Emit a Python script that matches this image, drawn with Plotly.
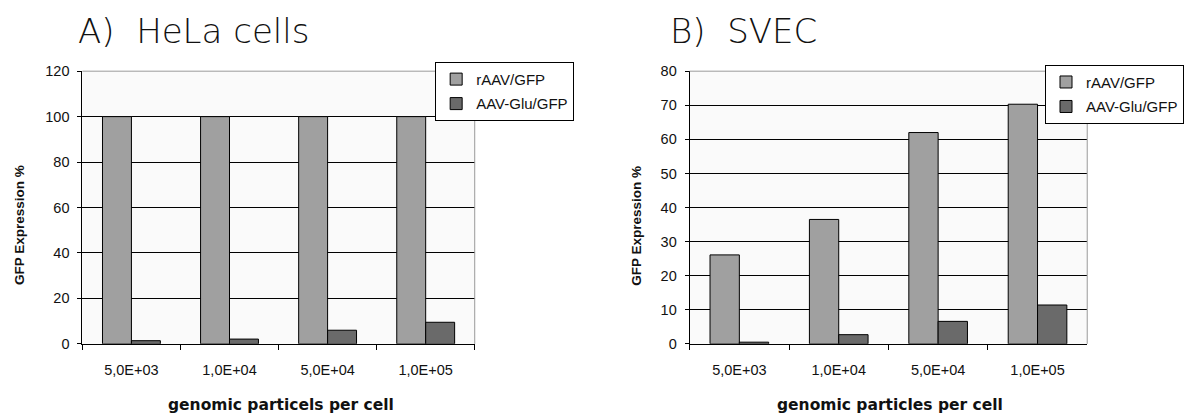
import plotly.graph_objects as go

categories = ["5,0E+03", "1,0E+04", "5,0E+04", "1,0E+05"]
series_names = ["rAAV/GFP", "AAV-Glu/GFP"]
hela_raav = [100, 100, 100, 100]
hela_glu = [1.4, 2.1, 6.0, 9.5]
svec_raav = [26.1, 36.5, 62.0, 70.3]
svec_glu = [0.5, 2.7, 6.6, 11.4]
hela_ticks = [0, 20, 40, 60, 80, 100, 120]
svec_ticks = [0, 10, 20, 30, 40, 50, 60, 70, 80]

C_LIGHT = "#a0a0a0"
C_DARK = "#6a6a6a"
W, H = 1184, 416

fig = go.Figure()

def add_bars(vals_a, vals_b, xa, ya, leg, grp):
    for name, vals, col in ((series_names[0], vals_a, C_LIGHT), (series_names[1], vals_b, C_DARK)):
        fig.add_trace(go.Bar(
            x=categories, y=vals, name=name, xaxis=xa, yaxis=ya, legend=leg,
            legendgroup=grp + name,
            marker=dict(color=col, line=dict(color="black", width=1)),
        ))

add_bars(hela_raav, hela_glu, "x", "y", "legend", "a")
add_bars(svec_raav, svec_glu, "x2", "y2", "legend2", "b")

tickfont = dict(family="Liberation Sans, Arial, sans-serif", size=14.5, color="#111")
xcommon = dict(type="category", showline=True, linecolor="black", linewidth=1,
               ticks="outside", tickson="boundaries", ticklen=5, tickcolor="black",
               tickfont=tickfont, showgrid=False, fixedrange=True, ticklabelstandoff=13)
ycommon = dict(showline=True, linecolor="black", linewidth=1, ticks="outside",
               ticklen=4, tickcolor="black", tickfont=tickfont, showgrid=True,
               gridcolor="black", gridwidth=1, zeroline=False, ticklabelstandoff=5)

y0 = 66.7 / H
y1 = 350.3 / H
legfont = dict(family="Liberation Sans, Arial, sans-serif", size=15, color="#111")
fig.update_layout(
    width=W, height=H, margin=dict(l=0, r=0, t=0, b=0),
    paper_bgcolor="white", plot_bgcolor="#fafafa",
    barmode="group", bargap=0.41, bargroupgap=0,
    xaxis=dict(xcommon, domain=[83.3 / W, 480 / W], anchor="y"),
    yaxis=dict(ycommon, domain=[y0, y1], range=[0, 120], tickvals=hela_ticks, anchor="x"),
    xaxis2=dict(xcommon, domain=[697.3 / W, 1099.3 / W], anchor="y2"),
    yaxis2=dict(ycommon, domain=[y0, y1], range=[0, 80], tickvals=svec_ticks, anchor="x2"),
    legend=dict(x=440 / W, y=1 - 56 / H, xanchor="left", yanchor="top",
                bgcolor="white", bordercolor="black", borderwidth=1, font=legfont,
                traceorder="grouped", tracegroupgap=2, itemwidth=30),
    legend2=dict(x=1057 / W, y=1 - 59 / H, xanchor="left", yanchor="top",
                 bgcolor="white", bordercolor="black", borderwidth=1, font=legfont,
                 traceorder="grouped", tracegroupgap=2, itemwidth=30),
    showlegend=True,
)

# gray frame on top and right of each plot area
for xr, yr in (("x domain", "y domain"), ("x2 domain", "y2 domain")):
    fig.add_shape(type="line", xref=xr, yref=yr, x0=0, x1=1, y0=1, y1=1,
                  line=dict(color="#999", width=1), layer="above")
    fig.add_shape(type="line", xref=xr, yref=yr, x0=1, x1=1, y0=0, y1=1,
                  line=dict(color="#999", width=1), layer="above")

title_font = dict(family="DejaVu Sans, sans-serif", size=34, color="#111", weight=300)
fig.add_annotation(text="A)  HeLa cells", xref="paper", yref="paper", x=77 / W, y=1 - 24 / H,
                   xanchor="left", yanchor="middle", showarrow=False, font=title_font)
fig.add_annotation(text="B)  SVEC", xref="paper", yref="paper", x=675 / W, y=1 - 24 / H,
                   xanchor="left", yanchor="middle", showarrow=False, font=title_font)

ytitle_font = dict(family="Liberation Sans, Arial, sans-serif", size=13.5, color="#111", weight="bold")
for xp in (20, 643.5):
    fig.add_annotation(text="GFP Expression %", xref="paper", yref="paper", x=xp / W, y=1 - 226 / H,
                       textangle=-90, xanchor="center", yanchor="middle", showarrow=False,
                       font=ytitle_font)

xtitle_font = dict(family="DejaVu Sans, sans-serif", size=15.5, color="#111", weight="bold")
fig.add_annotation(text="genomic particels per cell", xref="paper", yref="paper", x=283.7 / W,
                   y=1 - 413 / H, xanchor="center", yanchor="middle", showarrow=False, font=xtitle_font)
fig.add_annotation(text="genomic particles per cell", xref="paper", yref="paper", x=900 / W,
                   y=1 - 413 / H, xanchor="center", yanchor="middle", showarrow=False, font=xtitle_font)

fig.write_html("out.html")
